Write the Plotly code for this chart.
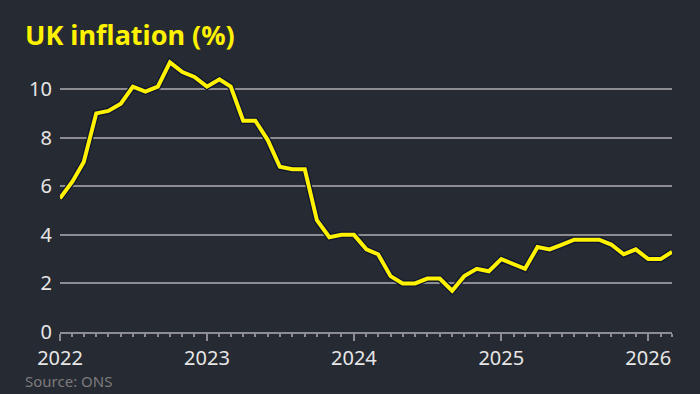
import plotly.graph_objects as go

months = [f"{y}-{m:02d}-01" for y in range(2022, 2027) for m in range(1, 13)][:51]
inflation = [5.5, 6.2, 7.0, 9.0, 9.1, 9.4, 10.1, 9.9, 10.1, 11.1, 10.7, 10.5,
             10.1, 10.4, 10.1, 8.7, 8.7, 7.9, 6.8, 6.7, 6.7, 4.6, 3.9, 4.0,
             4.0, 3.4, 3.2, 2.3, 2.0, 2.0, 2.2, 2.2, 1.7, 2.3, 2.6, 2.5,
             3.0, 2.8, 2.6, 3.5, 3.4, 3.6, 3.8, 3.8, 3.8, 3.6, 3.2, 3.4,
             3.0, 3.0, 3.3]
y_ticks = [0, 2, 4, 6, 8, 10]
year_ticks = ["2022-01-01", "2023-01-01", "2024-01-01", "2025-01-01", "2026-01-01"]
year_labels = ["2022", "2023", "2024", "2025", "2026"]

BG = "#262a33"
YELLOW = "#fff200"
GRID = "#8c8c92"
FONT = "Noto Sans"
PW, PH = 612, 275

fig = go.Figure()
fig.add_trace(go.Scatter(x=months, y=inflation, mode="lines",
                         line=dict(color="#0d1430", width=6.5),
                         hoverinfo="skip", showlegend=False))
fig.add_trace(go.Scatter(x=months, y=inflation, mode="lines",
                         line=dict(color=YELLOW, width=4),
                         showlegend=False))

fig.update_layout(
    width=700, height=394,
    paper_bgcolor=BG, plot_bgcolor=BG,
    margin=dict(l=60, r=28, t=57, b=62),
    font=dict(family=FONT, color="#e6e6e6", size=20),
)
fig.add_annotation(text="<b>UK inflation (%)</b>", xref="paper", yref="paper",
                   x=-37/PW, y=1 + (57-35)/PH, xanchor="left", yanchor="middle",
                   showarrow=False, font=dict(family=FONT, size=27, color=YELLOW))
fig.add_annotation(text="Source: ONS", xref="paper", yref="paper",
                   x=-37/PW, y=-(381-332)/PH, xanchor="left", yanchor="middle",
                   showarrow=False, font=dict(family=FONT, size=15, color="#7d7b7b"))

fig.update_xaxes(
    range=["2022-01-01", "2026-03-01"],
    tickvals=year_ticks, ticktext=year_labels,
    showgrid=False, zeroline=False,
    showline=True, linecolor=GRID, linewidth=2,
    ticks="outside", ticklen=7, tickwidth=2, tickcolor=GRID,
    minor=dict(dtick="M1", tick0="2022-01-01", ticks="outside", ticklen=3,
               tickwidth=1.5, tickcolor=GRID, showgrid=False),
    tickfont=dict(size=20, color="#e6e6e6", family=FONT),
)
fig.update_yaxes(
    range=[0, 11.32],
    tickvals=y_ticks, ticktext=[str(v) for v in y_ticks],
    showgrid=True, gridcolor=GRID, gridwidth=1.5,
    zeroline=False, showline=False, ticks="",
    ticklabelstandoff=7,
    tickfont=dict(size=20, color="#e6e6e6", family=FONT),
)

fig.write_html("out.html", config={"displayModeBar": False},
               post_script="document.body.style.margin='0';")
